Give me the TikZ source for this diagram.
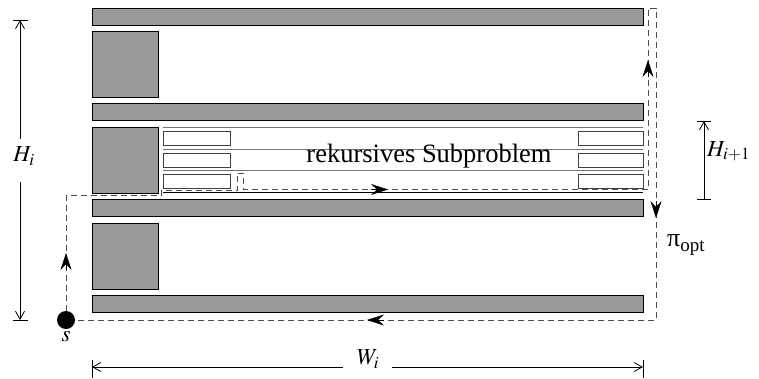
\documentclass[tikz,border=0pt]{standalone}
\usepackage{mathptmx}
\usepackage{fontspec}
\setmainfont{Liberation Serif}
\usetikzlibrary{arrows.meta}

\begin{document}
\begin{tikzpicture}[x=1pt, y=-1pt,
  bar/.style={draw=black, fill=gray!80, line width=0.8pt},
  subline/.style={draw=black!55, line width=0.8pt},
  subbox/.style={draw=black!75, fill=white, line width=0.8pt},
  optpath/.style={draw=black!70, line width=1pt, dash pattern=on 6pt off 4pt},
  opttip/.style={draw=black, solid, -{Stealth[length=17pt, width=11pt, inset=6pt]}},
  dim/.style={line width=0.8pt, -{Straight Barb[length=8pt, width=9pt]}},
  tick/.style={line width=0.8pt},
  lbl/.style={font=\fontsize{23}{27}\selectfont, inner sep=0pt}
]
\useasboundingbox (0,0) rectangle (759,378);

% blocks
\foreach \t in {8,103,199,295}
  \draw[bar] (92,\t) rectangle (643,\t+17.5);
\foreach \t in {31,127,223}
  \draw[bar] (92,\t) rectangle (158,\t+66);

% recursive subproblem
\foreach \y in {127.5,149,170.5}
  \draw[subline] (163,\y) -- (643,\y);
\draw[tick] (163,192) -- (643,192);
\foreach \t in {131.5,153,174} {
  \draw[subbox] (163,\t) rectangle (230,\t+14);
  \draw[subbox] (578,\t) rectangle (643,\t+14);
}
\node[lbl, font=\fontsize{26.5}{30}\selectfont] (sub) at (429,156) {rekursives Subproblem};

% optimal path
\node[circle, fill=black, minimum size=18pt, inner sep=0pt] (s) at (66,320) {};
\node[lbl] (slbl) at (66,337) {$s$};
\draw[optpath] (s.north) -- (66,195.5) -- (161,195.5) -- (161,190.5) -- (237,190.5)
  -- (237,173) -- (243,173) -- (243,189.5) -- (648,189.5) -- (648,8) -- (656,8)
  -- (656,320) -- (s.east);
\coordinate (a1) at (66,253);
\coordinate (a2) at (388,189.5);
\coordinate (a3) at (648,60);
\coordinate (a4) at (656,218);
\coordinate (a5) at (367,320);
\draw[opttip] (66,270) -- (a1);
\draw[opttip] (371,189.5) -- (a2);
\draw[opttip] (648,77) -- (a3);
\draw[opttip] (656,201) -- (a4);
\draw[opttip] (384,320) -- (a5);
\node[lbl, anchor=west] (pi) at (667,245) {\fontsize{26}{30}\selectfont π\raisebox{-5pt}{\fontsize{19}{22}\selectfont opt}};

% H_i
\node[lbl] (Hi) at (24,156) {$H_i$};
\coordinate (Hitop) at (20,20);
\coordinate (Hibot) at (20,320);
\draw[dim] (20,139) -- (Hitop);
\draw[dim] (20,182) -- (Hibot);
\draw[tick] (13,20) -- (28,20);
\draw[tick] (13,320) -- (28,320);

% H_{i+1}
\coordinate (Hjtop) at (704,121);
\coordinate (Hjbot) at (704,199);
\draw[dim, {Straight Barb[length=8pt, width=9pt]}-] (Hjtop) -- (Hjbot);
\draw[tick] (697,121) -- (711,121);
\draw[tick] (697,199) -- (711,199);
\node[lbl, anchor=west] (Hj) at (707,151) {$H_{i+1}$};

% W_i
\node[lbl] (Wi) at (368,359) {$W_i$};
\coordinate (Wileft) at (92,367);
\coordinate (Wiright) at (643,367);
\draw[dim] (343,367) -- (Wileft);
\draw[dim] (392,367) -- (Wiright);
\draw[tick] (92,360) -- (92,378);
\draw[tick] (643,360) -- (643,378);
\end{tikzpicture}
\end{document}
